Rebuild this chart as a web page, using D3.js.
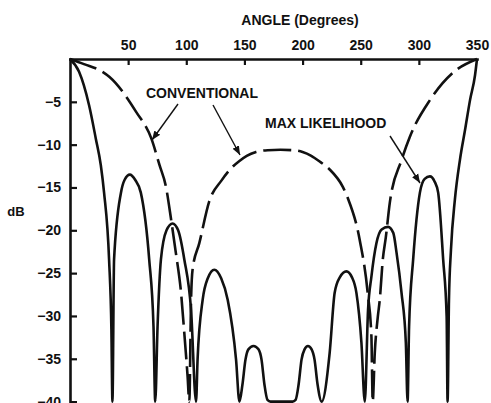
<!DOCTYPE html>
<html>
<head>
<meta charset="utf-8">
<script src="https://cdn.jsdelivr.net/npm/d3@7"></script>
<style>
  html, body { margin: 0; padding: 0; background: #fff; }
  svg { display: block; }
</style>
</head>
<body>
<script>
// ---- data ----
const xTicks = [50, 100, 150, 200, 250, 300, 350];
const yTicks = [-5, -10, -15, -20, -25, -30, -35, -40];

// Conventional beamformer (dashed)
const convAngle = [0, 12, 28, 34, 57, 70, 77, 82.5, 87, 91, 95.5, 98.3, 101.1, 102.6,
  104.1, 105.4, 111.2, 119.8, 130.2, 139.7, 145.7, 152, 160, 170, 181, 192, 200, 207.5, 215,
  223.3, 234.5, 238.8, 249.1, 256, 259.2, 260.3, 262.1, 264.7, 266.4, 269, 271.6, 275, 285.1,
  292.2, 309.5, 329.3, 350];
const convDb = [0, -0.6, -1.5, -2.1, -6.2, -9.3, -12.4, -14.9, -18.8, -22.6, -27.3, -32, -37, -40,
  -28.1, -24.6, -21.5, -16.6, -14.2, -12.6, -11.9, -11.3, -10.85, -10.65, -10.6, -10.65, -10.85,
  -11.3, -12, -12.9, -14.9, -16.2, -21.1, -27.3, -32.4, -40, -34.3, -30.1, -28.1, -23.4, -20.8,
  -16.8, -11.8, -9.1, -4.8, -1.6, 0];

// Max likelihood (solid)
const mlAngle = [0, 7.8, 16.4, 22.2, 26.5, 29.3, 33.6, 35.6, 36.5,
  37.9, 43.7, 47, 51.5, 56, 60.9, 68.1, 71.8, 73.3,
  75.3, 78.2, 83, 88.2, 93, 98.3, 104.1, 108.4,
  109.7, 114.1, 118.5, 124.1, 130, 135.6, 142.8, 145.7,
  148.3, 150.9, 153.4, 157.8, 162.1, 164.7, 167.2, 169.8, 172.4, 191.4,
  194, 196.6, 199.1, 201.7, 204.6, 207.8, 210.3, 212.9, 216.4,
  223.3, 227.6, 232, 237.7, 242.5, 246.3, 250.6, 253.5,
  256.3, 259.2, 263.5, 268, 273.5, 278, 280.8, 285.1, 288.8, 290.3,
  291.6, 295.1, 300.9, 305, 309.5, 313.5, 316.6, 320.9, 323.9, 324.7,
  325.9, 327.6, 331, 335.3, 339.7, 344, 348.3, 350];
const mlDb = [0, -1.5, -5.4, -9.3, -12.4, -15.6, -23.4, -31.6, -40,
  -23.4, -15.7, -14.1, -13.5, -14.1, -15.6, -23.4, -31.2, -40,
  -31.2, -23.4, -20, -19.2, -20, -23.4, -29.3, -40,
  -35.1, -28.1, -25.6, -24.6, -25.6, -28.1, -35.1, -40,
  -38, -35.1, -33.9, -33.5, -33.9, -35.1, -38, -39.8, -40, -40,
  -39.8, -38, -35.1, -33.9, -33.5, -33.9, -35.1, -38, -40,
  -34.3, -27.3, -25.5, -24.8, -25.5, -27.3, -33.1, -40,
  -29.3, -25.4, -21.5, -19.9, -19.6, -20.3, -22.6, -27.3, -33.1, -40,
  -31.2, -23.4, -15.6, -14, -13.7, -14.3, -15.6, -23.4, -30.1, -40,
  -28.1, -22.3, -16.4, -11.8, -8.3, -4.8, -1.9, 0];

// ---- drawing ----
const W = 491, H = 403;
const svg = d3.select("body").append("svg").attr("width", W).attr("height", H)
  .style("background", "#fff");

const x = d3.scaleLinear().domain([0, 350]).range([70, 477]);
const y = d3.scaleLinear().domain([0, -40]).range([59, 401.6]);

const FONT = "'Liberation Sans', Arial, sans-serif";
const INK = "#111";

const defs = svg.append("defs");
defs.append("marker").attr("id", "arr").attr("viewBox", "0 0 10 10")
  .attr("refX", 10).attr("refY", 5).attr("markerWidth", 9).attr("markerHeight", 9)
  .attr("markerUnits", "userSpaceOnUse").attr("orient", "auto")
  .append("path").attr("d", "M0,1 L10,5 L0,9 Z").attr("fill", INK);

// Axes
const gx = svg.append("g").attr("transform", `translate(0,${y(0)})`)
  .call(d3.axisTop(x).tickValues(xTicks).tickSizeInner(-6).tickSizeOuter(0).tickPadding(9)
    .tickFormat(d3.format("d")));
gx.selectAll(".tick").filter(d => d === 350).select("line").remove();

const gy = svg.append("g").attr("transform", `translate(${x(0)},0)`)
  .call(d3.axisLeft(y).tickValues(yTicks).tickSizeInner(-7).tickSizeOuter(0).tickPadding(9));

[gx, gy].forEach(g => {
  g.select(".domain").attr("stroke", INK).attr("stroke-width", 2.6).attr("stroke-linecap", "square");
  g.selectAll(".tick line").attr("stroke", INK).attr("stroke-width", 2.2);
  g.selectAll(".tick text").attr("fill", INK).attr("font-family", FONT)
    .attr("font-size", 14).attr("font-weight", "bold");
});

// Axis titles
svg.append("text").attr("x", 300).attr("y", 25).attr("text-anchor", "middle")
  .attr("font-family", FONT).attr("font-size", 14).attr("font-weight", "bold").attr("fill", INK)
  .text("ANGLE (Degrees)");
svg.append("text").attr("x", 16).attr("y", 216).attr("text-anchor", "middle")
  .attr("font-family", FONT).attr("font-size", 13).attr("font-weight", "bold").attr("fill", INK)
  .text("dB");

// Curves
const line = d3.line().x(d => x(d[0])).y(d => y(d[1])).curve(d3.curveMonotoneX);
const convData = convAngle.map((a, i) => [a, convDb[i]]);
const mlData = mlAngle.map((a, i) => [a, mlDb[i]]);

svg.append("path").datum(convData).attr("d", line).attr("fill", "none")
  .attr("stroke", INK).attr("stroke-width", 2.6).attr("stroke-dasharray", "28,7");
svg.append("path").datum(mlData).attr("d", line).attr("fill", "none")
  .attr("stroke", INK).attr("stroke-width", 2.6).attr("stroke-linejoin", "round");

// Annotations
const txt = (s, tx, ty) => svg.append("text").attr("x", tx).attr("y", ty)
  .attr("font-family", FONT).attr("font-size", 14).attr("font-weight", "bold")
  .attr("fill", INK).text(s);
txt("CONVENTIONAL", 146, 98);
txt("MAX LIKELIHOOD", 265, 128);

const arrow = (x1, y1, x2, y2) => svg.append("line")
  .attr("x1", x1).attr("y1", y1).attr("x2", x2).attr("y2", y2)
  .attr("stroke", INK).attr("stroke-width", 1.4).attr("marker-end", "url(#arr)");
arrow(178, 104, 152, 140);
arrow(213, 105, 240, 155);
arrow(390, 136, 420, 183);
</script>
</body>
</html>
